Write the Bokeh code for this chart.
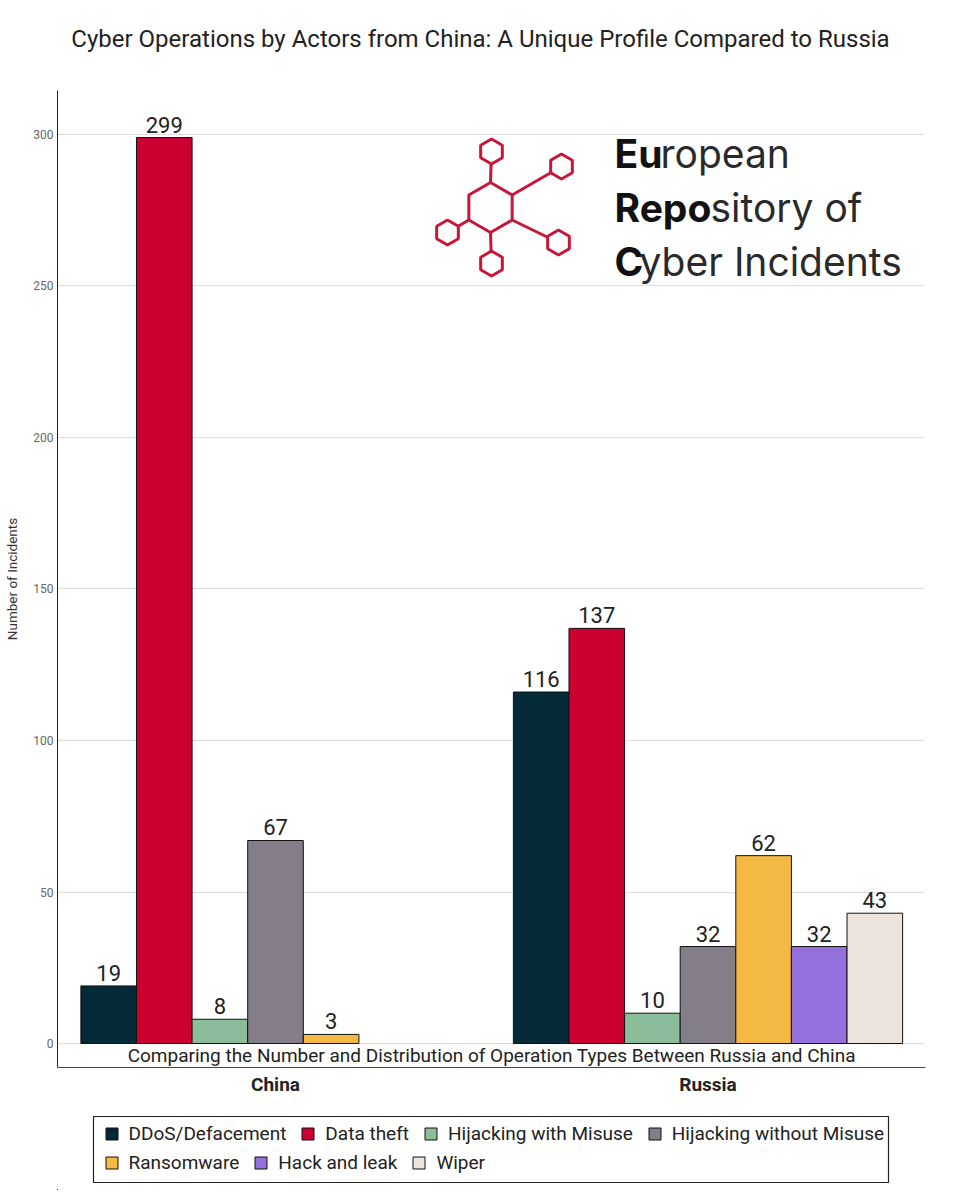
import numpy as np
from bokeh.plotting import figure
from bokeh.models import (ColumnDataSource, Range1d, FixedTicker, Label, Legend,
                          LegendItem)
from bokeh.layouts import column
from bokeh.core.properties import value
from bokeh.embed import file_html
from bokeh.resources import INLINE

# ---------------- data ----------------
countries = ["China", "Russia"]
op_types = ["DDoS/Defacement", "Data theft", "Hijacking with Misuse",
            "Hijacking without Misuse", "Ransomware", "Hack and leak", "Wiper"]
type_colors = ["#032a36", "#cc0030", "#8bbd9b", "#847e89", "#f4b942", "#9370db", "#ede3dd"]
china_types = ["DDoS/Defacement", "Data theft", "Hijacking with Misuse",
               "Hijacking without Misuse", "Ransomware"]
china_values = [19, 299, 8, 67, 3]
russia_types = op_types
russia_values = [116, 137, 10, 32, 62, 32, 43]
y_ticks = [0, 50, 100, 150, 200, 250, 300]

title_text = "Cyber Operations by Actors from China: A Unique Profile Compared to Russia"
subtitle_text = "Comparing the Number and Distribution of Operation Types Between Russia and China"
y_label = "Number of Incidents"

FONT = "Roboto"
n_slots = len(op_types)
bar_w = 0.9 / n_slots

xs, tops, cols, labs = [], [], [], []
for gi, (tlist, vlist) in enumerate([(china_types, china_values), (russia_types, russia_values)]):
    for slot, (t, v) in enumerate(zip(tlist, vlist)):
        xs.append(gi + 1 + (slot - (n_slots - 1) / 2) * bar_w)
        tops.append(v)
        cols.append(type_colors[op_types.index(t)])
        labs.append(str(v))
src = ColumnDataSource(dict(x=xs, top=tops, color=cols, label=labs))

BL, BR = 57, 30          # left / right borders (shared by all figures)
FW = 868
FL, FR, FT, FB = 57, 925, 90, 1067   # reference frame edges (page pixels)

# ---------------- title strip ----------------
TH = 70
p0 = figure(frame_width=FW, frame_height=TH, min_border_left=BL, min_border_right=BR,
            min_border_top=0, min_border_bottom=0, x_range=Range1d(0, FW),
            y_range=Range1d(0, TH), x_axis_type=None, y_axis_type=None,
            toolbar_location=None, output_backend="svg")
p0.outline_line_color = None
p0.add_layout(Label(x=480 - FL, y=TH - 38, text=title_text, text_align="center",
                    text_baseline="middle", text_font=FONT, text_font_size="24px",
                    text_color="#222222"))

# ---------------- main figure ----------------
XR = (0.49595, 2.50289)
YR = (-7.92, 314.52)
p = figure(frame_width=FW, frame_height=977, min_border_left=BL, min_border_right=BR,
           min_border_top=FT - TH, min_border_bottom=33,
           x_range=Range1d(*XR), y_range=Range1d(*YR),
           toolbar_location=None, output_backend="svg", title=None)
p.outline_line_color = None
p.background_fill_color = "white"

p.vbar(x="x", top="top", width=bar_w, source=src, fill_color="color",
       line_color="#111111", line_width=1)
p.text(x="x", y="top", text="label", source=src, text_align="center",
       text_baseline="middle", y_offset=-13, text_font=value(FONT),
       text_font_size="22px", text_color="#222222")

p.xgrid.visible = False
p.ygrid.grid_line_color = "#dddddd"
p.ygrid.grid_line_width = 1
p.ygrid.ticker = FixedTicker(ticks=y_ticks)

p.yaxis.ticker = FixedTicker(ticks=y_ticks)
p.yaxis.major_tick_line_color = None
p.yaxis.minor_tick_line_color = None
p.yaxis.major_tick_out = 0
p.yaxis.major_label_standoff = 4
p.yaxis.major_label_text_font = FONT
p.yaxis.major_label_text_font_size = "12px"
p.yaxis.major_label_text_color = "#666666"
p.yaxis.axis_line_color = "#222222"
p.yaxis.axis_label = y_label
p.yaxis.axis_label_text_font = FONT
p.yaxis.axis_label_text_font_size = "13.5px"
p.yaxis.axis_label_text_font_style = "normal"
p.yaxis.axis_label_text_color = "#333333"
p.yaxis.axis_label_standoff = 10

p.xaxis.ticker = FixedTicker(ticks=[1, 2])
p.xaxis.major_label_overrides = {1: countries[0], 2: countries[1]}
p.xaxis.major_tick_line_color = None
p.xaxis.minor_tick_line_color = None
p.xaxis.major_tick_out = 0
p.xaxis.major_label_standoff = 5
p.xaxis.major_label_text_font = FONT
p.xaxis.major_label_text_font_size = "19px"
p.xaxis.major_label_text_font_style = "bold"
p.xaxis.major_label_text_color = "#222222"
p.xaxis.axis_line_color = "#444444"
p.xaxis.axis_line_width = 1.2

p.add_layout(Label(x=1.5, y=-4, text=subtitle_text, text_align="center",
                   text_baseline="middle", text_font=FONT, text_font_size="19px",
                   text_color="#222222"))

# ---------------- logo (decoration placed by reference pixel position) ----------------
def to_data(px, py):
    return (XR[0] + (px - FL) / (FR - FL) * (XR[1] - XR[0]),
            YR[1] - (py - FT) / (FB - FT) * (YR[1] - YR[0]))

LOGO_RED = "#c8163a"
cx, cy, R = 490, 207, 25
small = [(491, 151), (561, 166), (558, 242), (491, 263), (447, 232)]
verts = [(cx, cy - R), (cx + R * 0.866, cy - R / 2), (cx + R * 0.866, cy + R / 2),
         (cx, cy + R), (cx - R * 0.866, cy + R / 2)]
seg = [to_data(*a) + to_data(*b) for a, b in zip(verts, small)]
p.segment(x0=[s[0] for s in seg], y0=[s[1] for s in seg], x1=[s[2] for s in seg],
          y1=[s[3] for s in seg], line_color=LOGO_RED, line_width=3)
c = to_data(cx, cy)
p.scatter(x=[c[0]], y=[c[1]], marker="hex", size=2 * R, angle=np.pi / 2,
          fill_color=None, line_color=LOGO_RED, line_width=3)
sm = [to_data(*s) for s in small]
p.scatter(x=[s[0] for s in sm], y=[s[1] for s in sm], marker="hex", size=25,
          angle=np.pi / 2, fill_color="white", line_color=LOGO_RED, line_width=3)

logo_parts = [("Eu", "bold", 614, 152.5), ("ropean", "normal", 660, 152.5),
              ("Repo", "bold", 614, 207), ("sitory of", "normal", 710, 207),
              ("C", "bold", 614, 261), ("yber Incidents", "normal", 639, 261)]
for txt, style, px, py in logo_parts:
    lx, ly = to_data(px, py)
    p.add_layout(Label(x=lx, y=ly, text=txt, text_font="Inter", text_font_size="39px",
                       text_font_style=style, text_baseline="middle",
                       text_align="left",
                       text_color="#111111" if style == "bold" else "#2a2a2a"))

# ---------------- legend figure ----------------
LH = 90
p2 = figure(frame_width=FW, frame_height=LH, min_border_left=BL, min_border_right=BR,
            min_border_top=0, min_border_bottom=0, x_range=Range1d(0, FW),
            y_range=Range1d(0, LH), x_axis_type=None, y_axis_type=None,
            toolbar_location=None, output_backend="svg")
p2.outline_line_color = None
# legend box (reference pixels 93..888 x 1116..1182, legend frame top at 1100)
p2.quad(left=[93 - FL], right=[888 - FL], bottom=[1190 - 1182], top=[1190 - 1116],
        fill_color=None, line_color="#222222", line_width=1.2)
rends = {}
for tname, col in zip(op_types, type_colors):
    rends[tname] = p2.vbar(x=[-100], top=[1], width=1, fill_color=col,
                           line_color="#111111", line_width=1)

def make_legend(names, loc):
    return Legend(items=[LegendItem(label=n, renderers=[rends[n]]) for n in names],
                  location=loc, orientation="horizontal", padding=0, spacing=14,
                  glyph_width=15, glyph_height=15, label_standoff=10, label_height=20,
                  label_text_font=FONT, label_text_font_size="19px",
                  label_text_color="#222222", border_line_alpha=0,
                  background_fill_alpha=0, margin=0)

p2.add_layout(make_legend(op_types[:4], (103.5 - FL, 1190 - 1145)), "center")
p2.add_layout(make_legend(op_types[4:], (103.5 - FL, 1190 - 1174)), "center")

layout = column(p0, p, p2, spacing=0)
open("out.html", "w").write(file_html(layout, INLINE))
